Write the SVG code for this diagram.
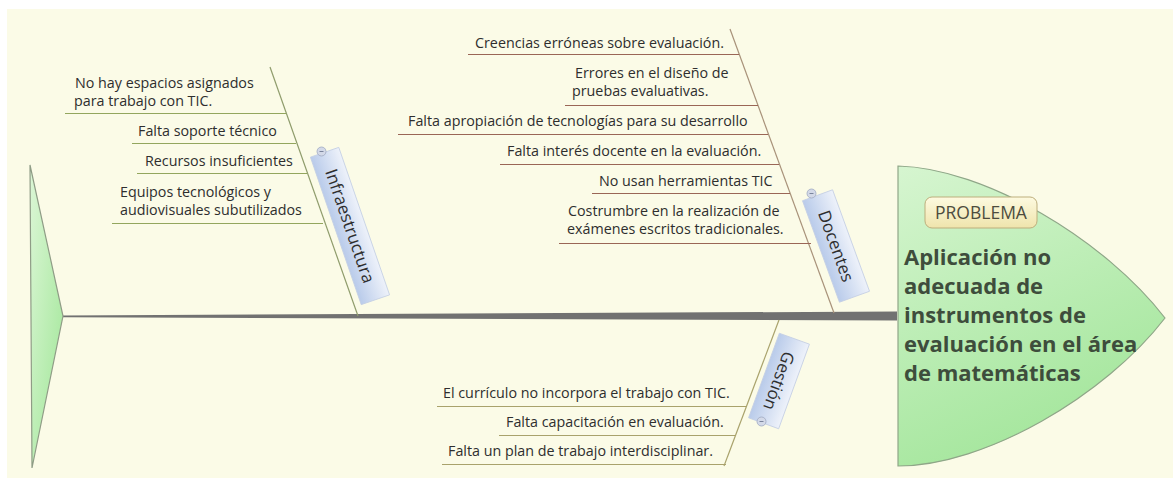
<svg xmlns="http://www.w3.org/2000/svg" width="1173" height="478" viewBox="0 0 1173 478">
<defs>
<linearGradient id="gTail" x1="0" y1="0" x2="1" y2="1">
<stop offset="0" stop-color="#dcf6d6"/><stop offset="1" stop-color="#9fe696"/>
</linearGradient>
<linearGradient id="gHead" x1="0" y1="0" x2="0.4" y2="1">
<stop offset="0" stop-color="#d6f5d0"/><stop offset="1" stop-color="#a4e69c"/>
</linearGradient>
<linearGradient id="gLabel" x1="0" y1="0" x2="0" y2="1">
<stop offset="0" stop-color="#eef2fa"/><stop offset="1" stop-color="#b9cbea"/>
</linearGradient>
<linearGradient id="gProb" x1="0" y1="0" x2="0" y2="1">
<stop offset="0" stop-color="#fdfae0"/><stop offset="1" stop-color="#efe4ac"/>
</linearGradient>
<style>
.c{font-family:"Open Sans","Noto Sans",sans-serif;font-size:14.3px;fill:#2e2e2e}
.lbl{font-family:"Open Sans","Noto Sans",sans-serif;font-size:17px;fill:#2e2e2e;text-anchor:middle}
.lblbox{fill:url(#gLabel);stroke:#c4cfe4;stroke-width:0.8}
.tog{fill:#d3d9e8;stroke:#9ea8c0;stroke-width:0.8}
.togm{stroke:#7a849c;stroke-width:1}
.ui{stroke:#93a65e;stroke-width:1.2;fill:none}
.ud{stroke:#9a6656;stroke-width:1.2;fill:none}
.ug{stroke:#a9a26c;stroke-width:1.2;fill:none}
.prob{font-family:"Open Sans","Noto Sans",sans-serif;font-size:22px;font-weight:bold;fill:#3e4d3c}
</style>
</defs>
<rect x="7" y="9" width="1166" height="469" fill="#fbfbe7"/>

<g id="connectors">
<polygon points="63,315.4 897,311.5 897,320.5 63,317.2" fill="#717171"/>
<line x1="270" y1="67" x2="358" y2="316" stroke="#8f9c6c" stroke-width="1.2"/>
<line x1="730" y1="29" x2="834" y2="313" stroke="#a8927a" stroke-width="1.2"/>
<line x1="779" y1="320" x2="724" y2="466" stroke="#a9a26c" stroke-width="1.2"/>
</g>

<g id="tail">
<polygon points="30,165 63,316 32,468" fill="url(#gTail)" stroke="#8f9c86" stroke-width="1.2"/>
</g>

<g id="head">
<path d="M898,166 C985,168 1105,240 1165,318 C1105,396 985,466 898,466 Z" fill="url(#gHead)" stroke="#8fa688" stroke-width="1.2"/>
<rect x="925" y="197" width="112" height="31" rx="7" fill="url(#gProb)" stroke="#bdae7c" stroke-width="1"/>
<text x="981" y="219" font-family="Open Sans, Noto Sans, sans-serif" font-size="17.5" fill="#4d4c3e" text-anchor="middle">PROBLEMA</text>
<text class="prob" x="904" y="265">Aplicación no</text>
<text class="prob" x="904" y="294">adecuada de</text>
<text class="prob" x="904" y="323">instrumentos de</text>
<text class="prob" x="904" y="352">evaluación en el área</text>
<text class="prob" x="904" y="381">de matemáticas</text>
</g>

<g id="infraestructura">
<g transform="translate(350,226) rotate(71)">
<rect class="lblbox" x="-78" y="-15" width="156" height="30"/>
<text class="lbl" x="0" y="6">Infraestructura</text>
</g>
<circle class="tog" cx="321.5" cy="151.5" r="4.5"/>
<line class="togm" x1="319.5" y1="151.5" x2="323.5" y2="151.5"/>
</g>

<g id="docentes">
<g transform="translate(836,246) rotate(70)">
<rect class="lblbox" x="-54" y="-16" width="108" height="32"/>
<text class="lbl" x="0" y="6">Docentes</text>
</g>
<circle class="tog" cx="811.5" cy="193.5" r="4.5"/>
<line class="togm" x1="809.5" y1="193.5" x2="813.5" y2="193.5"/>
</g>

<g id="gestion">
<g transform="translate(779,381) rotate(110)">
<rect class="lblbox" x="-45" y="-16" width="90" height="32"/>
<text class="lbl" x="0" y="6">Gestión</text>
</g>
<circle class="tog" cx="761.5" cy="421.5" r="4.5"/>
<line class="togm" x1="759.5" y1="421.5" x2="763.5" y2="421.5"/>
</g>

<g id="i1"><text class="c" x="75" y="88">No hay espacios asignados</text><text class="c" x="74" y="106">para trabajo con TIC.</text><line class="ui" x1="65" y1="113.5" x2="286" y2="113.5"/></g>
<g id="i2"><text class="c" x="138" y="136">Falta soporte técnico</text><line class="ui" x1="132" y1="143.5" x2="296" y2="143.5"/></g>
<g id="i3"><text class="c" x="145" y="166">Recursos insuficientes</text><line class="ui" x1="137" y1="173.5" x2="307" y2="173.5"/></g>
<g id="i4"><text class="c" x="120" y="197">Equipos tecnológicos y</text><text class="c" x="120" y="215">audiovisuales subutilizados</text><line class="ui" x1="112" y1="223.5" x2="323" y2="223.5"/></g>

<g id="d1"><text class="c" x="475" y="48">Creencias erróneas sobre evaluación.</text><line class="ud" x1="468" y1="54.5" x2="739" y2="54.5"/></g>
<g id="d2"><text class="c" x="575" y="78">Errores en el diseño de</text><text class="c" x="572" y="96">pruebas evaluativas.</text><line class="ud" x1="565" y1="105.5" x2="758" y2="105.5"/></g>
<g id="d3"><text class="c" x="408" y="126">Falta apropiación de tecnologías para su desarrollo</text><line class="ud" x1="398" y1="134.5" x2="768" y2="134.5"/></g>
<g id="d4"><text class="c" x="507" y="156">Falta interés docente en la evaluación.</text><line class="ud" x1="500" y1="164.5" x2="779" y2="164.5"/></g>
<g id="d5"><text class="c" x="599" y="186">No usan herramientas TIC</text><line class="ud" x1="592" y1="193.5" x2="790" y2="193.5"/></g>
<g id="d6"><text class="c" x="568" y="216">Costrumbre en la realización de</text><text class="c" x="567" y="234">exámenes escritos tradicionales.</text><line class="ud" x1="559" y1="243.5" x2="811" y2="243.5"/></g>

<g id="g1"><text class="c" x="443" y="398">El currículo no incorpora el trabajo con TIC.</text><line class="ug" x1="437" y1="406.5" x2="747" y2="406.5"/></g>
<g id="g2"><text class="c" x="506" y="427">Falta capacitación en evaluación.</text><line class="ug" x1="499" y1="435.5" x2="736" y2="435.5"/></g>
<g id="g3"><text class="c" x="448" y="456">Falta un plan de trabajo interdisciplinar.</text><line class="ug" x1="442" y1="464.5" x2="726" y2="464.5"/></g>
</svg>
